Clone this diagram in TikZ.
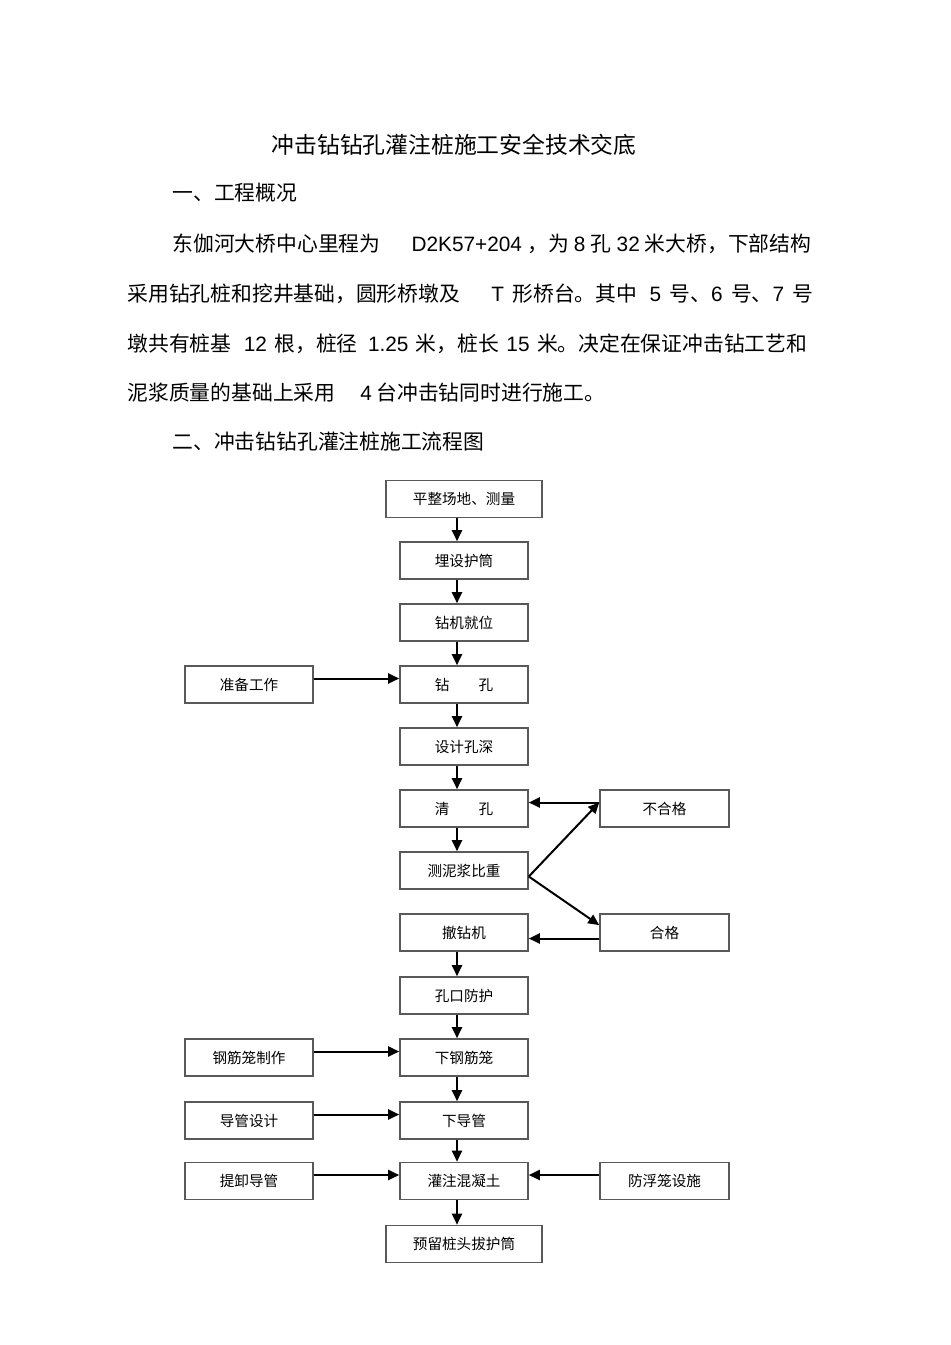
\documentclass[tikz,border=0pt]{standalone}
\usepackage{fontspec}
\setmainfont{Noto Sans CJK SC}
\newfontfamily\lat{Liberation Sans}
\XeTeXlinebreaklocale "zh"
\XeTeXlinebreakskip=0pt plus 1pt
\usetikzlibrary{arrows.meta}

\tikzset{
  stepbox/.style={draw=black!65, line width=0.8pt, minimum width=64pt, minimum height=18.5pt,
    inner sep=0pt, font=\fontsize{7.3}{8}\selectfont},
  widebox/.style={stepbox, minimum width=78pt},
  arr/.style={line width=1pt, -{Triangle[length=5.5pt,width=5pt]}},
  bodytext/.style={anchor=west, inner sep=0pt, font=\fontsize{10.4}{12}\selectfont}
}

\begin{document}
\begin{tikzpicture}[x=0.5pt, y=-0.5pt]

  \useasboundingbox (0,0) rectangle (950,1345);

  % heading and text
  \node[inner sep=0pt, font=\fontsize{11.4}{13}\selectfont] (title) at (454,145) {冲击钻钻孔灌注桩施工安全技术交底};
  \node[bodytext] (sec1) at (172,193) {一、工程概况};
  \node[bodytext] (par1) at (172,244) {\hbox to 319.5pt{东伽河大桥中心里程为\hspace{1.5em}{\lat D2K57+204} ，为 {\lat 8} 孔 {\lat 32} 米大桥，下部结构}};
  \node[bodytext] (par2) at (127,294) {\hbox to 343pt{采用钻孔桩和挖井基础，圆形桥墩及\hspace{1.5em}{\lat T} 形桥台。其中\hspace{0.6em}{\lat 5} 号、{\lat 6} 号、{\lat 7} 号}};
  \node[bodytext] (par3) at (127,344) {\hbox to 340pt{墩共有桩基\hspace{0.6em}{\lat 12} 根，桩径\hspace{0.5em}{\lat 1.25} 米，桩长 {\lat 15} 米。决定在保证冲击钻工艺和}};
  \node[bodytext] (par4) at (127,393) {泥浆质量的基础上采用\hspace{1.2em}{\lat 4} 台冲击钻同时进行施工。};
  \node[bodytext] (sec2) at (172,442) {二、冲击钻钻孔灌注桩施工流程图};

  % main column
  \node[widebox] (level) at (464,499) {平整场地、测量};
  \node[stepbox] (casing) at (464,560.5) {埋设护筒};
  \node[stepbox] (rig) at (464,622.5) {钻机就位};
  \node[stepbox] (drill) at (464,684.5) {钻\hspace{2em}孔};
  \node[stepbox] (depth) at (464,746.5) {设计孔深};
  \node[stepbox] (clean) at (464,808.5) {清\hspace{2em}孔};
  \node[stepbox] (mud) at (464,870.5) {测泥浆比重};
  \node[stepbox] (remove) at (464,932.5) {撤钻机};
  \node[stepbox] (mouth) at (464,995.5) {孔口防护};
  \node[stepbox] (cage) at (464,1057.5) {下钢筋笼};
  \node[stepbox] (pipe) at (464,1120.5) {下导管};
  \node[stepbox] (pour) at (464,1181) {灌注混凝土};
  \node[widebox] (keep) at (464,1244) {预留桩头拔护筒};

  % side boxes
  \node[stepbox] (prep) at (249,684.5) {准备工作};
  \node[stepbox] (cagemake) at (249,1057.5) {钢筋笼制作};
  \node[stepbox] (pipeplan) at (249,1120.5) {导管设计};
  \node[stepbox] (lift) at (249,1181) {提卸导管};
  \node[stepbox, minimum width=64.5pt] (fail) at (664.5,808.5) {不合格};
  \node[stepbox, minimum width=64.5pt] (pass) at (664.5,932.5) {合格};
  \node[stepbox, minimum width=64.5pt] (float) at (664.5,1181) {防浮笼设施};

  \foreach \a/\b in {level/casing, casing/rig, rig/drill, drill/depth, depth/clean, clean/mud,
      remove/mouth, mouth/cage, cage/pipe, pipe/pour, pour/keep}
    \draw[arr] ([xshift=-3.5pt]\a.south) -- ([xshift=-3.5pt]\b.north);

  \foreach \a/\b in {prep/drill, cagemake/cage, pipeplan/pipe, lift/pour}
    \draw[arr] ([yshift=3pt]\a.east) -- ([yshift=3pt]\b.west);
  \foreach \a/\b in {float/pour, fail/clean}
    \draw[arr] ([yshift=3pt]\a.west) -- ([yshift=3pt]\b.east);

  \draw[arr] ([yshift=-3pt]pass.west) -- ([yshift=-3pt]remove.east);
  \draw[arr] ([yshift=-3pt]mud.east) -- ([yshift=3pt]fail.west);
  \draw[arr] ([yshift=-3pt]mud.east) -- ([yshift=3.7pt]pass.west);
\end{tikzpicture}
\end{document}
